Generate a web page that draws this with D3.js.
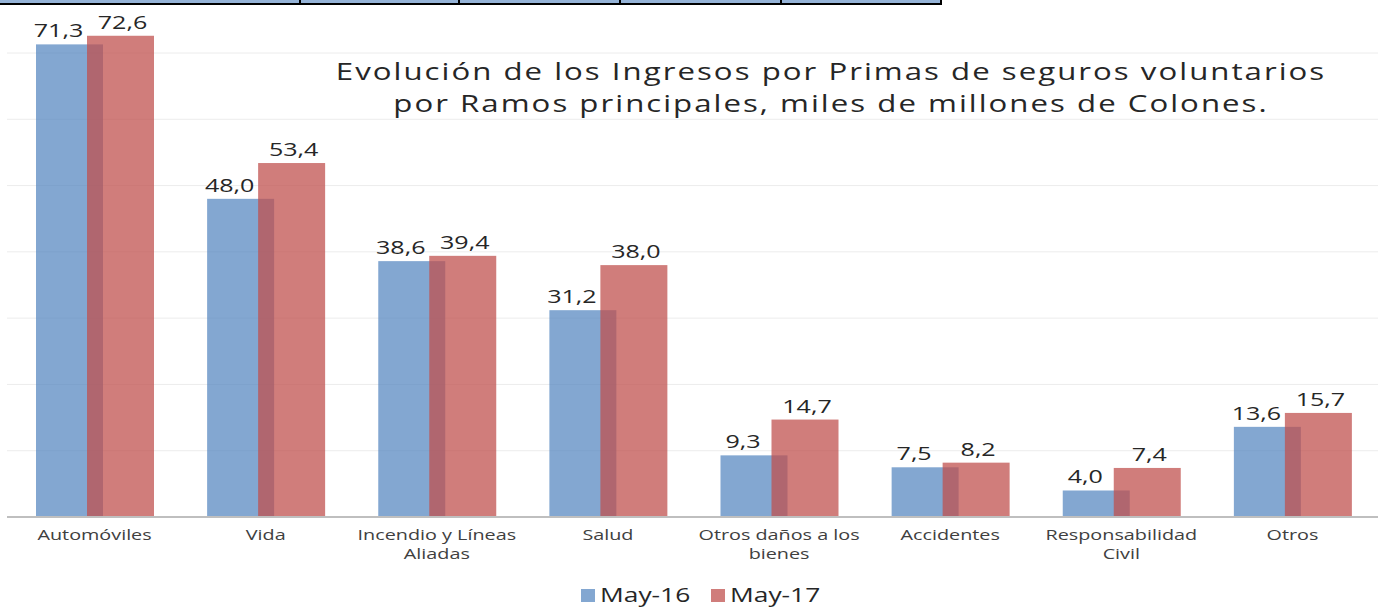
<!DOCTYPE html>
<html>
<head>
<meta charset="utf-8">
<script src="https://cdn.jsdelivr.net/npm/d3@7"></script>
<style>
  html, body { margin: 0; padding: 0; background: #fff; }
  svg { display: block; }
  text { font-family: "Open Sans", sans-serif; }
</style>
</head>
<body>
<svg id="chart" width="1378" height="608"></svg>
<script>
// data (miles de millones de colones)
var categories = [
  ["Automóviles"],
  ["Vida"],
  ["Incendio y Líneas", "Aliadas"],
  ["Salud"],
  ["Otros daños a los", "bienes"],
  ["Accidentes"],
  ["Responsabilidad", "Civil"],
  ["Otros"]
];
var series = ["May-16", "May-17"];
var may16 = [71.3, 48.0, 38.6, 31.2, 9.3, 7.5, 4.0, 13.6];
var may17 = [72.6, 53.4, 39.4, 38.0, 14.7, 8.2, 7.4, 15.7];
var yTicks = [0, 10, 20, 30, 40, 50, 60, 70];
var titleLines = [
  "Evolución de los Ingresos por Primas de seguros voluntarios",
  "por Ramos principales, miles de millones de Colones."
];

var colors = { "May-16": "#4f81bd", "May-17": "#c0504d" };
var sx = 1.32; // the original text is rendered horizontally stretched

var svg = d3.select("#chart");
var width = 1378, base = 517;

// bit of the table that sits above the chart
var tableEdge = svg.append("g").attr("class", "table-edge");
tableEdge.append("rect").attr("x", 0).attr("y", 0).attr("width", 941).attr("height", 3).attr("fill", "#95b3d7");
tableEdge.append("line").attr("x1", 0).attr("x2", 942).attr("y1", 4).attr("y2", 4).attr("stroke", "#000").attr("stroke-width", 2);
[300, 459, 620, 781, 941].forEach(function(d) {
  tableEdge.append("line").attr("x1", d).attr("x2", d).attr("y1", 0).attr("y2", 5).attr("stroke", "#000").attr("stroke-width", 2);
});

var keys = categories.map(function(c) { return c.join(" "); });
var x = d3.scaleBand().domain(keys).range([9, 1378]).padding(0);
var xs = d3.scalePoint().domain(series).range([27, 78]);
var barW = 67;
var y = d3.scaleLinear().domain([0, 70]).range([base, 53]);

// gridlines
svg.append("g").selectAll("line")
  .data(yTicks.filter(function(d) { return d > 0; }))
  .join("line")
  .attr("x1", 7).attr("x2", width)
  .attr("y1", function(d) { return y(d); }).attr("y2", function(d) { return y(d); })
  .attr("stroke", "#ececec").attr("stroke-width", 1);

// bars
var rows = series.map(function(s, i) {
  var vals = i === 0 ? may16 : may17;
  return vals.map(function(v, j) { return { s: s, k: keys[j], v: v }; });
});

var barG = svg.append("g");
rows.forEach(function(row) {
  barG.append("g").selectAll("rect")
    .data(row)
    .join("rect")
    .attr("x", function(d) { return x(d.k) + xs(d.s); })
    .attr("y", function(d) { return y(d.v); })
    .attr("width", barW)
    .attr("height", function(d) { return base - y(d.v); })
    .attr("fill", function(d) { return colors[d.s]; })
    .attr("fill-opacity", function(d) { return d.s === "May-16" ? 0.7 : 0.74; });
});

// baseline
svg.append("line").attr("x1", 7).attr("x2", width).attr("y1", base).attr("y2", base)
  .attr("stroke", "#bfbfbf").attr("stroke-width", 2);

// value labels
var labelShift = { "May-16": -11, "May-17": 2 };
rows.forEach(function(row) {
  svg.append("g").selectAll("text")
    .data(row)
    .join("text")
    .attr("transform", function(d) {
      var cx = x(d.k) + xs(d.s) + barW / 2 + labelShift[d.s];
      return "translate(" + cx + "," + (y(d.v) - 7) + ") scale(" + sx + ",1)";
    })
    .attr("text-anchor", "middle")
    .attr("font-size", 19)
    .attr("fill", "#262626")
    .text(function(d) { return d3.format(".1f")(d.v).replace(".", ","); });
});

// category labels
var catG = svg.append("g").selectAll("g")
  .data(categories)
  .join("g")
  .attr("transform", function(d, i) { return "translate(" + (x(keys[i]) + x.bandwidth() / 2) + ",540) scale(" + sx + ",1)"; });
catG.selectAll("text")
  .data(function(d) { return d; })
  .join("text")
  .attr("y", function(d, i) { return i * 19; })
  .attr("text-anchor", "middle")
  .attr("font-size", 15)
  .attr("fill", "#404040")
  .text(function(d) { return d; });

// title
svg.append("g").selectAll("text")
  .data(titleLines)
  .join("text")
  .attr("transform", function(d, i) { return "translate(831," + (80 + i * 32) + ") scale(1.3,1)"; })
  .attr("text-anchor", "middle")
  .attr("font-size", 24)
  .attr("letter-spacing", 1.55)
  .attr("fill", "#262626")
  .text(function(d) { return d; });

// legend
var leg = svg.append("g").selectAll("g")
  .data(series)
  .join("g")
  .attr("transform", function(d, i) { return "translate(" + (581 + i * 130) + ",589)"; });
leg.append("rect").attr("width", 14).attr("height", 13)
  .attr("fill", function(d) { return colors[d]; })
  .attr("fill-opacity", function(d) { return d === "May-16" ? 0.7 : 0.74; });
leg.append("text")
  .attr("transform", "translate(19,13) scale(" + sx + ",1)")
  .attr("font-size", 20)
  .attr("fill", "#262626")
  .text(function(d) { return d; });
</script>
</body>
</html>
